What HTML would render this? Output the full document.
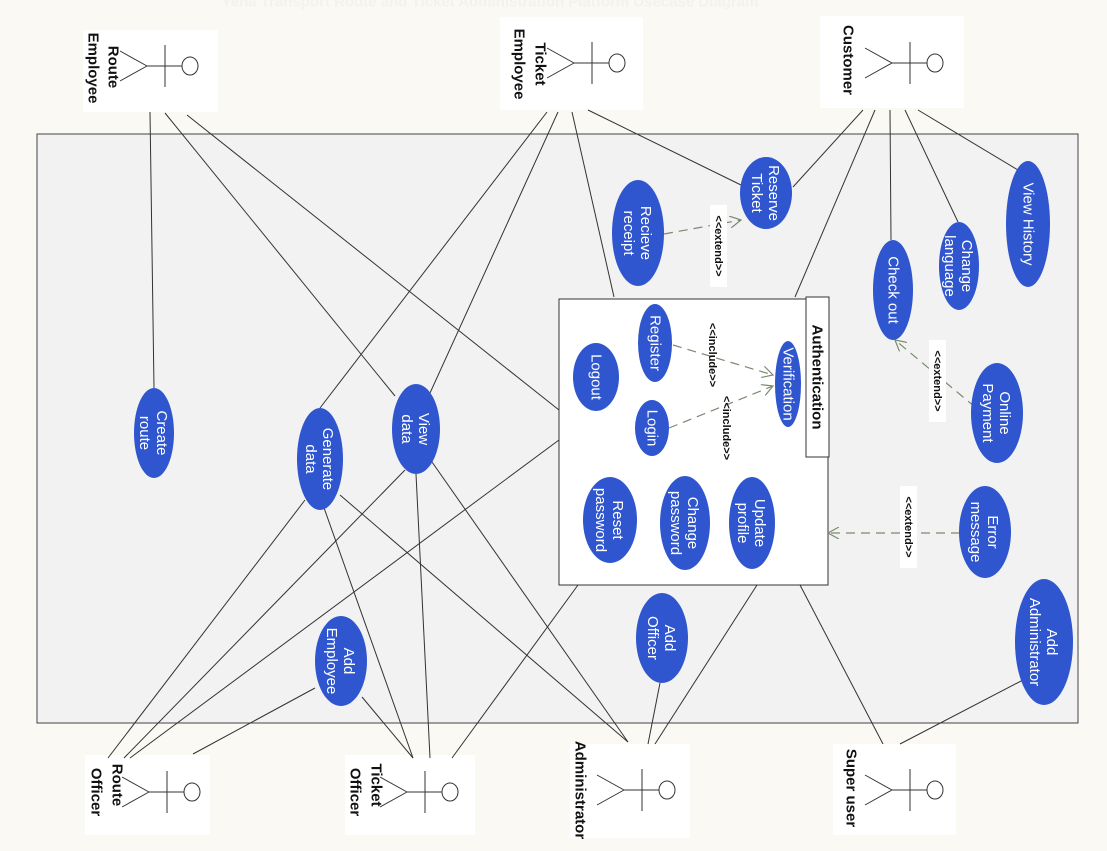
<!DOCTYPE html>
<html><head><meta charset="utf-8"><style>
html,body{margin:0;padding:0;background:#faf9f4;}
svg{display:block;font-family:"Liberation Sans","DejaVu Sans",sans-serif;}
.u{fill:#2f56cf;}
.ut{fill:#fff;font-size:15px;text-anchor:middle;dominant-baseline:central;}
.a{fill:#111;font-size:15px;font-weight:bold;text-anchor:middle;dominant-baseline:central;}
.l{stroke:#333;stroke-width:1;fill:none;}
.d{stroke:#7a8a70;stroke-width:1.2;stroke-dasharray:9,6;fill:none;}
.lb{fill:#111;font-size:11px;font-weight:bold;text-anchor:middle;dominant-baseline:central;}
</style></head><body>
<svg width="1107" height="851" viewBox="0 0 1107 851" xmlns="http://www.w3.org/2000/svg">
<defs><marker id="ar" markerWidth="12" markerHeight="12" refX="11" refY="6" orient="auto" markerUnits="userSpaceOnUse"><path d="M0,0 L11,6 L0,12" fill="none" stroke="#7a8a70" stroke-width="1.2"/></marker></defs>
<text x="490" y="2" fill="#f3f2ec" font-size="15" font-weight="bold" text-anchor="middle" dominant-baseline="central">Yena Transport Route and Ticket Administration Platform Usecase Diagram</text>
<rect x="37" y="134" width="1041" height="589" fill="#f2f2f2" stroke="#444" stroke-width="1"/>
<rect x="559" y="299" width="269" height="286" fill="#fff" stroke="#333"/>
<rect x="806" y="297" width="23" height="160" fill="#fff" stroke="#333"/>
<text transform="translate(817,377) rotate(90)" class="a" font-size="15">Authentication</text>

<!-- actor boxes -->
<rect x="83" y="30" width="135" height="82" fill="#fff"/>
<rect x="500" y="17" width="143" height="93" fill="#fff"/>
<rect x="820" y="16" width="144" height="92" fill="#fff"/>
<rect x="85" y="755" width="125" height="80" fill="#fff"/>
<rect x="345" y="755" width="130" height="80" fill="#fff"/>
<rect x="570" y="744" width="120" height="94" fill="#fff"/>
<rect x="833" y="744" width="123" height="91" fill="#fff"/>

<!-- associations -->
<g class="l">
<line x1="150" y1="112" x2="154" y2="388"/>
<line x1="165" y1="113" x2="395" y2="396"/>
<line x1="187" y1="115" x2="559" y2="410"/>
<line x1="547" y1="112" x2="320" y2="408"/>
<line x1="558" y1="112" x2="430" y2="393"/>
<line x1="572" y1="112" x2="614" y2="297"/>
<line x1="588" y1="110" x2="741" y2="185"/>
<line x1="863" y1="110" x2="793" y2="187"/>
<line x1="875" y1="110" x2="795" y2="297"/>
<line x1="890" y1="110" x2="891" y2="240"/>
<line x1="905" y1="110" x2="958" y2="222"/>
<line x1="918" y1="110" x2="1018" y2="170"/>
<line x1="108" y1="758" x2="305" y2="500"/>
<line x1="124" y1="758" x2="405" y2="470"/>
<line x1="130" y1="758" x2="559" y2="440"/>
<line x1="193" y1="754" x2="315" y2="688"/>
<line x1="413" y1="758" x2="323" y2="505"/>
<line x1="430" y1="758" x2="416" y2="474"/>
<line x1="413" y1="758" x2="362" y2="697"/>
<line x1="452" y1="758" x2="578" y2="585"/>
<line x1="628" y1="742" x2="340" y2="495"/>
<line x1="628" y1="742" x2="432" y2="462"/>
<line x1="648" y1="744" x2="660" y2="683"/>
<line x1="655" y1="744" x2="757" y2="585"/>
<line x1="883" y1="744" x2="800" y2="585"/>
<line x1="900" y1="744" x2="1023" y2="680"/>
</g>

<!-- dashed -->
<line class="d" x1="664" y1="234" x2="741" y2="220" marker-end="url(#ar)"/>
<line class="d" x1="975" y1="407" x2="895" y2="340" marker-end="url(#ar)"/>
<line class="d" x1="960" y1="533" x2="828" y2="533" marker-end="url(#ar)"/>
<line class="d" x1="673" y1="345" x2="773" y2="375" marker-end="url(#ar)"/>
<line class="d" x1="669" y1="428" x2="773" y2="386" marker-end="url(#ar)"/>
<rect x="710" y="205" width="17" height="82" fill="#fff"/>
<text transform="translate(718,246) rotate(90)" class="lb">&lt;&lt;extend&gt;&gt;</text>
<rect x="929" y="340" width="17" height="82" fill="#fff"/>
<text transform="translate(937,381) rotate(90)" class="lb">&lt;&lt;extend&gt;&gt;</text>
<rect x="900" y="486" width="17" height="82" fill="#fff"/>
<text transform="translate(908,527) rotate(90)" class="lb">&lt;&lt;extend&gt;&gt;</text>
<text transform="translate(712,355) rotate(90)" class="lb">&lt;&lt;include&gt;&gt;</text>
<text transform="translate(726,428) rotate(90)" class="lb">&lt;&lt;include&gt;&gt;</text>

<!-- use cases -->
<ellipse class="u" cx="766" cy="193" rx="26" ry="36"/>
<text transform="translate(766,193) rotate(90)" class="ut"><tspan x="0" dy="-8">Reserve</tspan><tspan x="0" dy="17">Ticket</tspan></text>
<ellipse class="u" cx="638" cy="233" rx="26" ry="53"/>
<text transform="translate(638,233) rotate(90)" class="ut"><tspan x="0" dy="-8">Recieve</tspan><tspan x="0" dy="17">receipt</tspan></text>
<ellipse class="u" cx="1028" cy="224" rx="22" ry="63"/>
<text transform="translate(1028,224) rotate(90)" class="ut">View History</text>
<ellipse class="u" cx="959" cy="266" rx="20" ry="44"/>
<text transform="translate(959,266) rotate(90)" class="ut"><tspan x="0" dy="-8">Change</tspan><tspan x="0" dy="17">language</tspan></text>
<ellipse class="u" cx="893" cy="290" rx="20" ry="50"/>
<text transform="translate(893,290) rotate(90)" class="ut">Check out</text>
<ellipse class="u" cx="997" cy="413" rx="26" ry="50"/>
<text transform="translate(997,413) rotate(90)" class="ut"><tspan x="0" dy="-8">Online</tspan><tspan x="0" dy="17">Payment</tspan></text>
<ellipse class="u" cx="985" cy="532" rx="26" ry="46"/>
<text transform="translate(985,532) rotate(90)" class="ut"><tspan x="0" dy="-8">Error</tspan><tspan x="0" dy="17">message</tspan></text>
<ellipse class="u" cx="1044" cy="642" rx="29" ry="63"/>
<text transform="translate(1044,642) rotate(90)" class="ut"><tspan x="0" dy="-8">Add</tspan><tspan x="0" dy="17">Administrator</tspan></text>
<ellipse class="u" cx="655" cy="343" rx="17" ry="39"/>
<text transform="translate(655,343) rotate(90)" class="ut">Register</text>
<ellipse class="u" cx="596" cy="377" rx="23" ry="34"/>
<text transform="translate(596,377) rotate(90)" class="ut">Logout</text>
<ellipse class="u" cx="788" cy="384" rx="13" ry="43"/>
<text transform="translate(788,384) rotate(90)" class="ut" font-size="11">Verification</text>
<ellipse class="u" cx="652" cy="428" rx="17" ry="28"/>
<text transform="translate(652,428) rotate(90)" class="ut">Login</text>
<ellipse class="u" cx="752" cy="523" rx="23" ry="46"/>
<text transform="translate(752,523) rotate(90)" class="ut"><tspan x="0" dy="-8">Update</tspan><tspan x="0" dy="17">profile</tspan></text>
<ellipse class="u" cx="685" cy="523" rx="25" ry="47"/>
<text transform="translate(685,523) rotate(90)" class="ut"><tspan x="0" dy="-8">Change</tspan><tspan x="0" dy="17">password</tspan></text>
<ellipse class="u" cx="610" cy="520" rx="27" ry="43"/>
<text transform="translate(610,520) rotate(90)" class="ut"><tspan x="0" dy="-8">Reset</tspan><tspan x="0" dy="17">password</tspan></text>
<ellipse class="u" cx="662" cy="638" rx="26" ry="45"/>
<text transform="translate(662,638) rotate(90)" class="ut"><tspan x="0" dy="-8">Add</tspan><tspan x="0" dy="17">Officer</tspan></text>
<ellipse class="u" cx="341" cy="661" rx="26" ry="45"/>
<text transform="translate(341,661) rotate(90)" class="ut"><tspan x="0" dy="-8">Add</tspan><tspan x="0" dy="17">Employee</tspan></text>
<ellipse class="u" cx="154" cy="433" rx="20" ry="45"/>
<text transform="translate(154,433) rotate(90)" class="ut"><tspan x="0" dy="-8">Create</tspan><tspan x="0" dy="17">route</tspan></text>
<ellipse class="u" cx="416" cy="429" rx="24" ry="45"/>
<text transform="translate(416,429) rotate(90)" class="ut"><tspan x="0" dy="-8">View</tspan><tspan x="0" dy="17">data</tspan></text>
<ellipse class="u" cx="320" cy="459" rx="23" ry="51"/>
<text transform="translate(320,459) rotate(90)" class="ut"><tspan x="0" dy="-8">Generate</tspan><tspan x="0" dy="17">data</tspan></text>

<!-- actors -->
<defs><g id="act" stroke="#333" stroke-width="1" fill="#fff">
<ellipse cx="0" cy="0" rx="8" ry="9"/>
<line x1="-8" y1="0" x2="-43" y2="0"/>
<line x1="-25" y1="-21" x2="-25" y2="21"/>
<line x1="-43" y1="0" x2="-70" y2="-15"/>
<line x1="-43" y1="0" x2="-70" y2="15"/>
</g></defs>
<use href="#act" x="190" y="66"/>
<use href="#act" x="617" y="63"/>
<use href="#act" x="935" y="63"/>
<use href="#act" x="192" y="792"/>
<use href="#act" x="450" y="792"/>
<use href="#act" x="667" y="790"/>
<use href="#act" x="935" y="790"/>
<text transform="translate(113,67) rotate(90)" class="a">Route</text>
<text transform="translate(93,68) rotate(90)" class="a">Employee</text>
<text transform="translate(540,64) rotate(90)" class="a">Ticket</text>
<text transform="translate(519,64) rotate(90)" class="a">Employee</text>
<text transform="translate(848,60) rotate(90)" class="a">Customer</text>
<text transform="translate(117,785) rotate(90)" class="a">Route</text>
<text transform="translate(96,792) rotate(90)" class="a">Officer</text>
<text transform="translate(376,785) rotate(90)" class="a">Ticket</text>
<text transform="translate(355,792) rotate(90)" class="a">Officer</text>
<text transform="translate(580,790) rotate(90)" class="a" font-size="12">Administrator</text>
<text transform="translate(851,788) rotate(90)" class="a">Super user</text>
</svg>
</body></html>
